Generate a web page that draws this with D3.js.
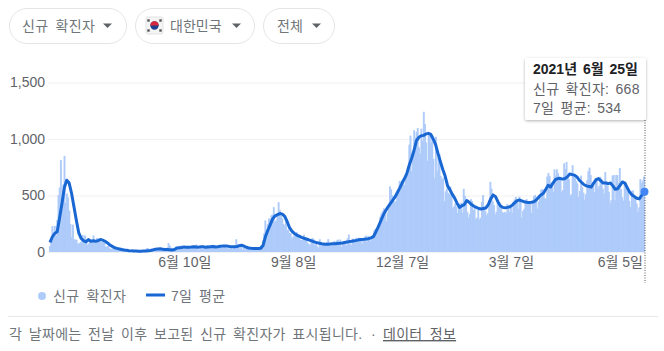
<!DOCTYPE html>
<html>
<head>
<meta charset="utf-8">
<script src="https://cdn.jsdelivr.net/npm/d3@7"></script>
<style>
  body { margin: 0; background: #fff; }
  text { font-family: "Liberation Sans", "Noto Sans CJK KR", sans-serif; }
</style>
</head>
<body>
<div id="chart"></div>
<script>
// new cases per day
var feb20 = [53,100,229,169,231,144,284,505,571,813]
var mar20 = [376,600,851,435,518,483,367,248,131,242,114,110,107,76,74,84,93,152,87,147,98,64,76,100,104,91,146,105,78,125,101]
var apr20 = [100,89,86,94,81,47,47,53,39,27,30,32,25,27,27,22,22,18,8,13,9,11,8,6,10,10,10,14,9,4]
var may20 = [9,6,13,8,3,2,4,12,18,34,35,27,26,29,27,19,13,15,13,32,12,20,23,25,16,19,40,79,58,39,27]
var jun20 = [35,38,49,39,39,51,57,38,38,50,45,56,49,37,43,34,43,59,49,67,48,17,46,51,28,39,51,37,62,42]
var jul20 = [43,51,54,63,63,61,46,48,62,50,45,35,44,62,33,39,26,39,34,26,45,59,113,58,41,28,48,18,48,34,23]
var aug20 = [31,30,23,34,33,43,20,43,36,28,34,54,56,103,166,279,197,246,297,288,324,332,397,266,280,320,441,371,323,299,248]
var sep20 = [235,267,195,198,168,167,119,136,156,155,176,136,121,109,106,113,153,126,110,82,70,61,110,125,114,61,95,50,38,113]
var oct20 = [77,63,75,64,73,88,114,69,54,72,58,98,84,102,110,84,110,47,73,91,76,58,121,155,77,61,119,88,103,125,114]
var nov20 = [127,124,97,75,118,125,145,89,143,126,100,146,143,191,205,208,223,230,313,343,363,386,330,271,349,382,581,555,503,450]
var dec20 = [438,451,511,540,629,583,631,615,594,671,680,689,950,1030,718,880,1078,1014,1064,1097,926,869,1092,985,1241,1132,970,807,1045,1050,967]
var jan21 = [1029,824,657,1020,714,838,869,674,641,657,451,537,562,524,512,580,520,389,404,431,400,346,431,392,437,349,559,497,469,355,305]
var feb21 = [336,467,451,370,393,289,303,372,288,303,444,504,403,362,326,343,457,621,561,448,416,332,357,440,396,406,388,355]
var mar21 = [344,355,344,424,398,355,418,346,446,465,488,459,382,490,459,303,363,382,445,468,452,447,428,346,430,494,505,482,384,447,506]
var apr21 = [551,557,543,477,473,668,700,671,614,587,532,731,677,731,698,672,658,532,549,785,735,797,661,644,499,512,769,680,661,627]
var may21 = [606,488,541,676,574,525,463,511,635,715,747,681,610,619,528,654,646,561,585,666,646,561,516,707,629,587,533,430,459,677,681]
var jun21 = [459,681,681,613,744,556,485,454,602,610,565,556,452,399,540,545,507,482,429,357,395,645,610,634,668]

// 7 day average, readings taken at even steps along the line
var avgFirstWave = [85,135,165,180,300,430,570,635,610,520,400,280,170,120,100,90,110,95,100,95,100,110,105,95,80,62,50,38,32,27,22,18]
var avgSpring = [15,12,10,9,8,7,6,8,9,10,13,19,24,27,28,25,22,22,20,18,22,35,38,40,45,41,43,44,46,45,43,47,46,43,45,47,48,45,47,50,52,52,52,48,46,47,49,55,60,52,42,36,33,32,31,30,33,60]
var avgAugust = [140,195,245,295,320,330,340,335,315,270,215,185,165,150,140,130,122,115,108,100,92,85,80,76,70,68,68,70,72,74,76,78,80,84,88,92,95,100,103,108,110,112,115,118,125,135,175]
var avgWinter = [220,270,320,360,395,425,455,485,525,565,610,650,695,770,830,900,985,1015,1028,1032,1045,1050,1040,1000,950,870,800,730,670,585,550,510,475,430,395,410]
var avgLast = [420,455,440,420,405,395,385,380,385,390,420,470,505,490,445,410,395,392,395,400,415,435,455,460,452,445,440,438,440,445,460,485,505,520,555,590,575,610,640,650,650,645,650,665,690,685,680,665,635,615,595,585,580,575,610,640,650,630,610,610,605,610,585,555,560,590,620,610,570,530,505,490,475,470,500,534]

var yTicks = [0, 500, 1000, 1500]
var xTickDates = [new Date(2020,5,10), new Date(2020,8,8), new Date(2020,11,7), new Date(2021,2,7), new Date(2021,5,5)]
var filters = ["신규 확진자", "대한민국", "전체"]
var tooltipLines = ["2021년 6월 25일", "신규 확진자: 668", "7일 평균: 534"]

var startDate = new Date(2020,1,20)
var endDate = new Date(2021,5,25)
var daily = [].concat(feb20,mar20,apr20,may20,jun20,jul20,aug20,sep20,oct20,nov20,dec20,jan21,feb21,mar21,apr21,may21,jun21)
var avg = [].concat(avgFirstWave,avgSpring,avgAugust,avgWinter,avgLast)

var svg = d3.select("#chart").append("svg")
  .attr("width", 664)
  .attr("height", 351)
  .style("display", "block")

var x = d3.scaleTime().domain([startDate, endDate]).range([50, 644])
var xAvg = d3.scalePoint().domain(d3.range(avg.length)).range(x.range())
var y = d3.scaleLinear().domain([0, 1500]).range([252, 82.5])

// filter chips
var chips = [
  {l: 9.5, w: 117, tx: 22, ax: 103, sp: 3},
  {l: 135.5, w: 119, tx: 170, ax: 232, sp: 0},
  {l: 263.5, w: 71, tx: 277, ax: 312, sp: 0}
]
chips.forEach(function (c, i) {
  svg.append("rect")
    .attr("x", c.l).attr("y", 8.5)
    .attr("width", c.w).attr("height", 35)
    .attr("rx", 17.5)
    .attr("fill", "#fff").attr("stroke", "#e3e5e8")
  svg.append("text")
    .attr("x", c.tx).attr("y", 31)
    .attr("font-size", 14).attr("fill", "#70757a")
    .style("word-spacing", c.sp + "px")
    .style("letter-spacing", c.sp ? "0.3px" : "0")
    .text(filters[i])
  svg.append("path")
    .attr("d", "M" + c.ax + ",23.5 h9 l-4.5,4.5 z")
    .attr("fill", "#5f6368")
})

// flag
var flag = svg.append("g").attr("transform", "translate(154.5,25.5)")
flag.append("rect").attr("x", -8.5).attr("y", -8.5).attr("width", 17).attr("height", 17)
  .attr("rx", 2).attr("fill", "#f4f4f4").attr("stroke", "#e3e3e3")
flag.append("circle").attr("r", 4.2).attr("fill", "#1f3f8f")
flag.append("path").attr("d", "M-4.2,0 A4.2,4.2 0 0 1 4.2,0 z").attr("fill", "#d8283a")
;[[-6,-5],[6,-5],[-6,5],[6,5]].forEach(function (p) {
  flag.append("rect").attr("x", p[0] - 1.2).attr("y", p[1] - 1.2)
    .attr("width", 2.4).attr("height", 2.4).attr("fill", "#555")
})

// gridlines and y axis
var yAxis = svg.append("g")
  .attr("transform", "translate(48,0)")
  .call(d3.axisLeft(y).tickValues(yTicks).tickSize(-597).tickPadding(3).tickFormat(d3.format(",")))
yAxis.select(".domain").remove()
yAxis.selectAll("line").attr("stroke", "#f1f1f1")
yAxis.selectAll("text").attr("font-size", 14).attr("fill", "#5f6368")
  .attr("x", -3).style("font-family", "'Liberation Sans'")

// new cases bars, a bit wider than a day so they close up into a solid area
svg.append("g").selectAll("rect")
  .data(daily)
  .join("rect")
    .attr("x", function (d, i) { return x(d3.timeDay.offset(startDate, i)) - 0.95 })
    .attr("y", function (d) { return y(d) })
    .attr("width", 1.9)
    .attr("height", function (d) { return y(0) - y(d) })
    .attr("fill", "#aecbfa")

// 7 day average line
var line = d3.line()
  .x(function (d, i) { return xAvg(i) })
  .y(function (d) { return y(d) })
svg.append("path")
  .datum(avg)
  .attr("d", line)
  .attr("fill", "none")
  .attr("stroke", "#1967d2")
  .attr("stroke-width", 3)
  .attr("stroke-linejoin", "round")

// x axis labels
var xAxis = svg.append("g")
  .attr("transform", "translate(0,252)")
  .call(d3.axisBottom(x).tickValues(xTickDates).tickSize(0).tickPadding(5)
    .tickFormat(function (d) { return (d.getMonth() + 1) + "월 " + d.getDate() + "일" }))
xAxis.select(".domain").remove()
xAxis.selectAll("text").attr("font-size", 14).attr("fill", "#5f6368")

// hover line, dot and tooltip
svg.append("line")
  .attr("x1", x(endDate) + 1).attr("x2", x(endDate) + 1)
  .attr("y1", 120).attr("y2", 283)
  .attr("stroke", "#555").attr("stroke-dasharray", "1,1.5")
svg.append("circle")
  .attr("cx", x(endDate) + 0.5).attr("cy", y(avg[avg.length - 1]))
  .attr("r", 4).attr("fill", "#4285f4")

var shadow = svg.append("defs").append("filter").attr("id", "tipShadow")
  .attr("x", "-10%").attr("y", "-10%").attr("width", "120%").attr("height", "130%")
shadow.append("feDropShadow").attr("dx", 0).attr("dy", 1).attr("stdDeviation", 1.5)
  .attr("flood-color", "#000").attr("flood-opacity", 0.3)
svg.append("rect")
  .attr("x", 525).attr("y", 58).attr("width", 121).attr("height", 62).attr("rx", 2)
  .attr("fill", "#fff").attr("filter", "url(#tipShadow)")
tooltipLines.forEach(function (t, i) {
  svg.append("text")
    .attr("x", 533).attr("y", 74 + i * 19.5)
    .attr("font-size", 14)
    .attr("font-weight", i == 0 ? "bold" : "normal")
    .attr("fill", i == 0 ? "#202124" : "#5f6368")
    .style("word-spacing", "2px")
    .style("letter-spacing", i == 0 ? "0" : "0.3px")
    .text(t)
})

// legend
svg.append("circle").attr("cx", 42).attr("cy", 296).attr("r", 4).attr("fill", "#aecbfa")
svg.append("text").attr("x", 53).attr("y", 301).attr("font-size", 14).attr("fill", "#70757a")
  .style("word-spacing", "3px").style("letter-spacing", "0.3px").text("신규 확진자")
svg.append("line").attr("x1", 146).attr("x2", 165).attr("y1", 295).attr("y2", 295)
  .attr("stroke", "#1967d2").attr("stroke-width", 3)
svg.append("text").attr("x", 171).attr("y", 301).attr("font-size", 14).attr("fill", "#70757a")
  .style("word-spacing", "2.5px").style("letter-spacing", "0.3px").text("7일 평균")

// footer
svg.append("line").attr("x1", 8).attr("x2", 658).attr("y1", 316.5).attr("y2", 316.5).attr("stroke", "#e8e8e8")
svg.append("text").attr("x", 9).attr("y", 339).attr("font-size", 14).attr("fill", "#70757a")
  .style("word-spacing", "2.4px").style("letter-spacing", "0.3px")
  .text("각 날짜에는 전날 이후 보고된 신규 확진자가 표시됩니다.")
svg.append("text").attr("x", 371).attr("y", 339).attr("font-size", 14).attr("fill", "#70757a").text("·")
svg.append("text").attr("x", 383).attr("y", 339).attr("font-size", 14).attr("fill", "#5f6368")
  .style("word-spacing", "3px").style("letter-spacing", "0.3px")
  .attr("text-decoration", "underline").text("데이터 정보")
</script>
</body>
</html>
